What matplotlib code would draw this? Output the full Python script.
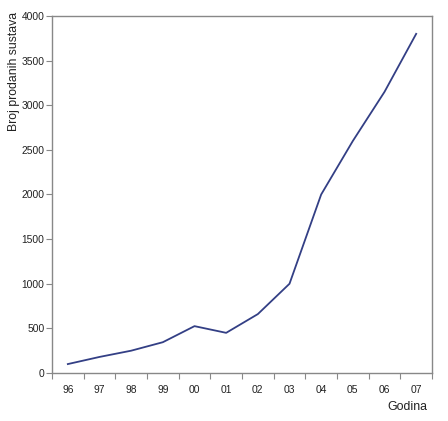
import matplotlib
matplotlib.use("Agg")
import matplotlib.pyplot as plt

years = ["96", "97", "98", "99", "00", "01", "02", "03", "04", "05", "06", "07"]
sales = [100, 180, 250, 345, 525, 450, 660, 1000, 2000, 2600, 3150, 3800]

plt.rcParams['font.family'] = ['Liberation Sans', 'DejaVu Sans']

fig = plt.figure(figsize=(4.48, 4.21), dpi=100)
ax = fig.add_axes([52/448, 1 - 373/421, 380/448, 357/421])

x = [i + 0.5 for i in range(len(years))]
ax.plot(x, sales, color="#333f85", linewidth=1.3)

ax.set_xlim(0, len(years))
ax.set_ylim(0, 4000)
ax.set_yticks(range(0, 4001, 500))
ax.set_xticks(range(0, len(years) + 1), minor=False)
ax.set_xticklabels([])
ax.set_xticks(x, minor=True)
ax.set_xticklabels(years, minor=True)
ax.tick_params(axis='x', which='minor', length=0, pad=8.5, labelsize=7.4, colors='#222222')
ax.tick_params(axis='x', which='major', length=4, direction='out', color='#888888')
ax.tick_params(axis='y', length=4, direction='out', color='#888888', labelsize=7.4, labelcolor='#222222', pad=1.5)
for s in ax.spines.values():
    s.set_color('#888888')
    s.set_linewidth(1.0)

fig.text(14/448, 1 - 71/421, "Broj prodanih sustava", fontsize=8.8, color='#222222',
         rotation=90, ha='center', va='center')
fig.text(427/448, 1 - 407/421, "Godina", fontsize=8.9, color='#222222', ha='right', va='center')

fig.savefig("out.png", dpi=100)
